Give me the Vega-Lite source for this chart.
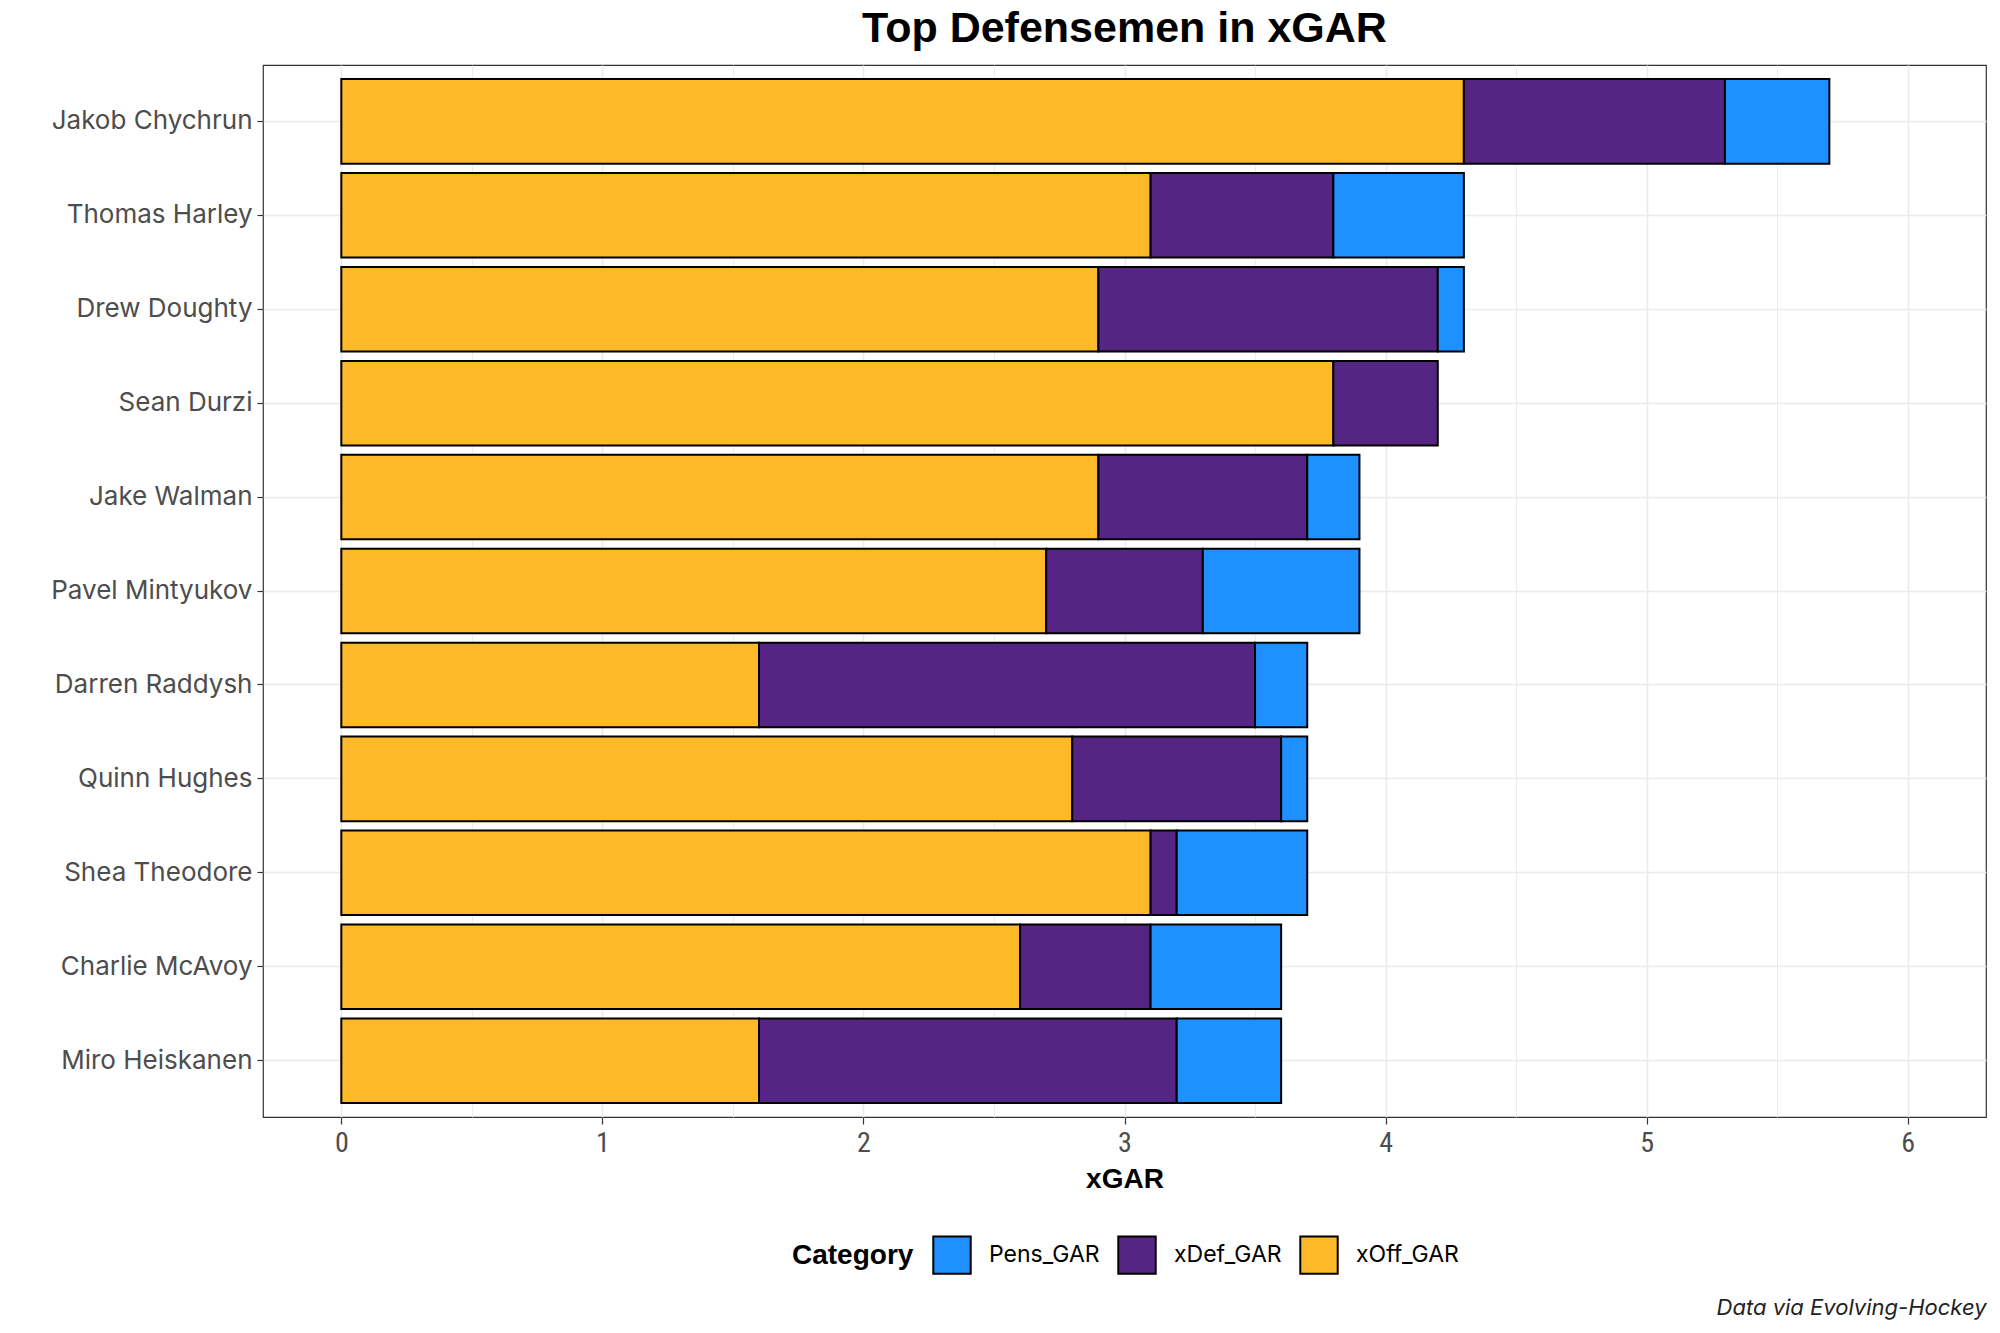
{
  "$schema": "https://vega.github.io/schema/vega-lite/v6.json",
  "width": 1723,
  "height": 1052,
  "autosize": {"type": "none"},
  "padding": {"left": 263, "top": 65, "right": 14, "bottom": 216},
  "background": "white",
  "title": {
    "text": "Top Defensemen in xGAR",
    "font": "Liberation Sans",
    "fontSize": 43,
    "fontWeight": "bold",
    "color": "black",
    "anchor": "middle",
    "frame": "group",
    "offset": 14
  },
  "data": {
    "values": [
      {"player": "Jakob Chychrun", "category": "xOff_GAR", "value": 4.3},
      {"player": "Jakob Chychrun", "category": "xDef_GAR", "value": 1.0},
      {"player": "Jakob Chychrun", "category": "Pens_GAR", "value": 0.4},
      {"player": "Thomas Harley", "category": "xOff_GAR", "value": 3.1},
      {"player": "Thomas Harley", "category": "xDef_GAR", "value": 0.7},
      {"player": "Thomas Harley", "category": "Pens_GAR", "value": 0.5},
      {"player": "Drew Doughty", "category": "xOff_GAR", "value": 2.9},
      {"player": "Drew Doughty", "category": "xDef_GAR", "value": 1.3},
      {"player": "Drew Doughty", "category": "Pens_GAR", "value": 0.1},
      {"player": "Sean Durzi", "category": "xOff_GAR", "value": 3.8},
      {"player": "Sean Durzi", "category": "xDef_GAR", "value": 0.4},
      {"player": "Jake Walman", "category": "xOff_GAR", "value": 2.9},
      {"player": "Jake Walman", "category": "xDef_GAR", "value": 0.8},
      {"player": "Jake Walman", "category": "Pens_GAR", "value": 0.2},
      {"player": "Pavel Mintyukov", "category": "xOff_GAR", "value": 2.7},
      {"player": "Pavel Mintyukov", "category": "xDef_GAR", "value": 0.6},
      {"player": "Pavel Mintyukov", "category": "Pens_GAR", "value": 0.6},
      {"player": "Darren Raddysh", "category": "xOff_GAR", "value": 1.6},
      {"player": "Darren Raddysh", "category": "xDef_GAR", "value": 1.9},
      {"player": "Darren Raddysh", "category": "Pens_GAR", "value": 0.2},
      {"player": "Quinn Hughes", "category": "xOff_GAR", "value": 2.8},
      {"player": "Quinn Hughes", "category": "xDef_GAR", "value": 0.8},
      {"player": "Quinn Hughes", "category": "Pens_GAR", "value": 0.1},
      {"player": "Shea Theodore", "category": "xOff_GAR", "value": 3.1},
      {"player": "Shea Theodore", "category": "xDef_GAR", "value": 0.1},
      {"player": "Shea Theodore", "category": "Pens_GAR", "value": 0.5},
      {"player": "Charlie McAvoy", "category": "xOff_GAR", "value": 2.6},
      {"player": "Charlie McAvoy", "category": "xDef_GAR", "value": 0.5},
      {"player": "Charlie McAvoy", "category": "Pens_GAR", "value": 0.5},
      {"player": "Miro Heiskanen", "category": "xOff_GAR", "value": 1.6},
      {"player": "Miro Heiskanen", "category": "xDef_GAR", "value": 1.6},
      {"player": "Miro Heiskanen", "category": "Pens_GAR", "value": 0.4}
    ]
  },
  "layer": [
    {
      "mark": {"type": "bar", "stroke": "black", "strokeWidth": 2},
      "encoding": {
        "y": {
          "field": "player",
          "type": "nominal",
          "sort": ["Jakob Chychrun", "Thomas Harley", "Drew Doughty", "Sean Durzi", "Jake Walman", "Pavel Mintyukov", "Darren Raddysh", "Quinn Hughes", "Shea Theodore", "Charlie McAvoy", "Miro Heiskanen"],
          "scale": {"paddingInner": 0.1, "paddingOuter": 0.15},
          "axis": {
            "title": null,
            "bandPosition": 0.5,
            "domain": false,
            "grid": true,
            "gridColor": "#EBEBEB",
            "gridWidth": 1.5,
            "ticks": true,
            "tickSize": 6,
            "tickColor": "#333333",
            "tickWidth": 1.2,
            "labelFont": "Inter",
            "labelFontSize": 26,
            "labelColor": "#4D4D4D",
            "labelPadding": 5,
            "labelLimit": 400
          }
        },
        "x": {
          "field": "value",
          "type": "quantitative",
          "stack": "zero",
          "scale": {"domain": [-0.3, 6.3], "nice": false, "zero": false},
          "axis": {
            "title": "xGAR",
            "titleFont": "Liberation Sans",
            "titleFontSize": 28,
            "titleFontWeight": "bold",
            "titleColor": "black",
            "titlePadding": 8,
            "values": [0, 0.5, 1, 1.5, 2, 2.5, 3, 3.5, 4, 4.5, 5, 5.5, 6],
            "labelExpr": "datum.value % 1 === 0 ? toString(datum.value) : ''",
            "domain": false,
            "grid": true,
            "gridColor": "#EBEBEB",
            "gridWidth": {"condition": {"test": "datum.value % 1 === 0", "value": 1.6}, "value": 0.9},
            "ticks": true,
            "tickSize": 7,
            "tickColor": "#333333",
            "tickWidth": 1.2,
            "tickOpacity": {"condition": {"test": "datum.value % 1 === 0", "value": 1}, "value": 0},
            "labelFont": "Roboto Condensed, Roboto",
            "labelFontSize": 28,
            "labelColor": "#4D4D4D",
            "labelPadding": 5,
            "labelFlush": false,
            "labelOverlap": false
          }
        },
        "color": {
          "field": "category",
          "type": "nominal",
          "scale": {"domain": ["Pens_GAR", "xDef_GAR", "xOff_GAR"], "range": ["#1E90FF", "#552583", "#FDB927"]},
          "legend": {
            "title": "Category",
            "orient": "none",
            "legendX": 529,
            "legendY": 1170,
            "direction": "horizontal",
            "titleOrient": "left",
            "titleFont": "Liberation Sans",
            "titleFontSize": 28,
            "titleFontWeight": "bold",
            "titleColor": "black",
            "titlePadding": 18,
            "titleAnchor": "middle",
            "titleBaseline": "middle",
            "symbolType": "square",
            "symbolSize": 1400,
            "symbolStrokeColor": "black",
            "symbolStrokeWidth": 2,
            "symbolOpacity": 1,
            "labelFont": "Inter",
            "labelFontSize": 23,
            "labelColor": "black",
            "labelOffset": 17,
            "columnPadding": 14
          }
        },
        "order": {"field": "category", "sort": "descending"}
      }
    },
    {
      "mark": {"type": "rule", "opacity": 0},
      "encoding": {
        "x": {
          "datum": 0,
          "type": "quantitative",
          "axis": {
            "orient": "bottom",
            "title": "Data via Evolving-Hockey",
            "titleFont": "Inter",
            "titleFontSize": 22,
            "titleFontStyle": "italic",
            "titleFontWeight": "normal",
            "titleColor": "#222222",
            "titleAnchor": "end",
            "titleAlign": "right",
            "titlePadding": 180,
            "labels": false,
            "ticks": false,
            "domain": false,
            "grid": false
          }
        }
      }
    }
  ],
  "resolve": {"axis": {"x": "independent"}},
  "config": {
    "view": {"stroke": "#333333", "strokeWidth": 1.2}
  }
}
